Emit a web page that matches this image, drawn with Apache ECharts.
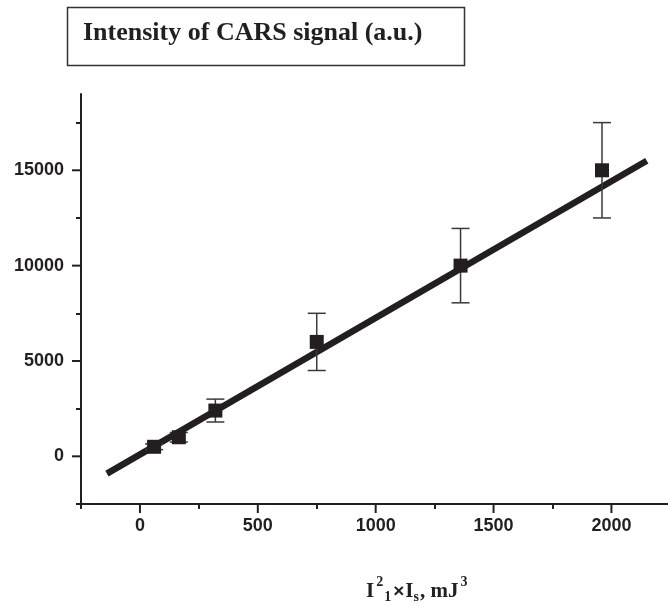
<!DOCTYPE html>
<html>
<head>
<meta charset="utf-8">
<script src="https://cdn.jsdelivr.net/npm/echarts@6/dist/echarts.min.js"></script>
<style>
  html, body { margin: 0; padding: 0; background: #fff; }
  #chart { width: 668px; height: 615px; }
</style>
</head>
<body>
<div id="chart"></div>
<script>
// Measured points: pump product I1^2 * Is (mJ^3) vs CARS intensity (a.u.)
const pumpEnergy  = [60, 165, 320, 750, 1360, 1960];
const carsSignal  = [500, 1000, 2400, 6000, 10000, 15000];
const signalError = [150, 250, 600, 1500, 1950, 2500];

// Linear fit, drawn between its two end points
const fitX = [-140, 2150];
const fitY = [-910, 15500];

// Axis ticks and labels
const xMajorTicks = [0, 500, 1000, 1500, 2000];
const xMinorTicks = [-250, 250, 750, 1250, 1750];
const yMajorTicks = [0, 5000, 10000, 15000];
const yMinorTicks = [-2500, 2500, 7500, 12500, 17500];

const INK = '#231f20';
const tickFont = { fontFamily: 'Liberation Sans', fontWeight: 'bold', fontSize: 18, color: INK };

const X_MIN = -250, X_MAX = 2240, Y_MIN = -2500, Y_MAX = 19000;
const MINOR_LEN = 5, MAJOR_LEN = 9;

const points = pumpEnergy.map((x, i) => [x, carsSignal[i]]);
const errorBars = pumpEnergy.map((x, i) => [x, carsSignal[i], carsSignal[i] - signalError[i], carsSignal[i] + signalError[i]]);
const fitLine = fitX.map((x, i) => [x, fitY[i]]);

const tickStyle = { color: INK, width: 2 };

// Axis: line, labels and short ticks
function mainAxis(min, max, pos, minors, labels, margin) {
  return {
    type: 'value', min: min, max: max, position: pos,
    splitLine: { show: false },
    axisLine: { show: true, onZero: false, lineStyle: { color: INK, width: 2 } },
    axisTick: { show: true, inside: false, length: MINOR_LEN, customValues: minors, lineStyle: tickStyle },
    axisLabel: Object.assign({ show: true, margin: margin, customValues: labels,
                               formatter: function (v) { return String(v); } }, tickFont)
  };
}

// Long ticks at the labelled values, placed on the axis edge through the axis scales
function majorTickSeries(name, data, dx, dy) {
  return {
    name: name, type: 'custom', data: data, xAxisIndex: 0, yAxisIndex: 0, z: 5, silent: true, clip: false,
    renderItem: function (params, api) {
      const p = api.coord([api.value(0), api.value(1)]);
      return {
        type: 'line',
        shape: { x1: p[0], y1: p[1], x2: p[0] + dx * MAJOR_LEN, y2: p[1] + dy * MAJOR_LEN },
        style: { stroke: INK, lineWidth: 2 }
      };
    }
  };
}

const chart = echarts.init(document.getElementById('chart'), null, { renderer: 'canvas' });

chart.setOption({
  animation: false,
  backgroundColor: '#fff',
  grid: { left: 81, right: 0, top: 94, bottom: 111, containLabel: false },
  xAxis: mainAxis(X_MIN, X_MAX, 'bottom', xMinorTicks, xMajorTicks, 13),
  yAxis: mainAxis(Y_MIN, Y_MAX, 'left', yMinorTicks, yMajorTicks, 17),
  series: [
    {
      name: 'fit', type: 'line', data: fitLine, xAxisIndex: 0, yAxisIndex: 0,
      symbol: 'none', lineStyle: { color: INK, width: 6.5 }, z: 2, silent: true
    },
    {
      name: 'error', type: 'custom', data: errorBars, xAxisIndex: 0, yAxisIndex: 0, z: 3,
      renderItem: function (params, api) {
        const x = api.value(0);
        const lo = api.coord([x, api.value(2)]);
        const hi = api.coord([x, api.value(3)]);
        const half = 9;
        const style = { stroke: '#3a3a3a', lineWidth: 1.5, fill: null };
        return {
          type: 'group',
          children: [
            { type: 'line', shape: { x1: lo[0], y1: lo[1], x2: hi[0], y2: hi[1] }, style: style },
            { type: 'line', shape: { x1: hi[0] - half, y1: hi[1], x2: hi[0] + half, y2: hi[1] }, style: style },
            { type: 'line', shape: { x1: lo[0] - half, y1: lo[1], x2: lo[0] + half, y2: lo[1] }, style: style }
          ]
        };
      }
    },
    {
      name: 'signal', type: 'scatter', data: points, xAxisIndex: 0, yAxisIndex: 0,
      symbol: 'rect', symbolSize: 14, itemStyle: { color: INK, opacity: 1 }, z: 4
    },
    majorTickSeries('x ticks', xMajorTicks.map(v => [v, Y_MIN]), 0, 1),
    majorTickSeries('y ticks', yMajorTicks.map(v => [X_MIN, v]), -1, 0)
  ],
  graphic: [
    {
      type: 'rect', left: 65, top: 5,
      shape: { width: 397, height: 58 },
      style: { fill: null, stroke: '#333', lineWidth: 1.5 }
    },
    {
      type: 'text', left: 83, top: 20,
      style: {
        text: 'Intensity of CARS signal (a.u.)',
        font: 'bold 26px "Liberation Serif"', fill: INK
      }
    },
    {
      type: 'text', left: 366, top: 574,
      style: {
        text: '{b|I}{sup|2}{sub|1}{x|×}{b|I}{sub|s}{b|, mJ}{sup|3}',
        fill: INK,
        rich: {
          b:   { fontFamily: 'Liberation Serif', fontWeight: 'bold', fontSize: 21, lineHeight: 30, verticalAlign: 'bottom', padding: [0, 0, 2, 0] },
          x:   { fontFamily: 'Liberation Sans', fontWeight: 'bold', fontSize: 19, lineHeight: 30, verticalAlign: 'bottom', padding: [0, 1, 3, 1] },
          sup: { fontFamily: 'Liberation Serif', fontWeight: 'bold', fontSize: 14, lineHeight: 30, verticalAlign: 'top', padding: [1, 1, 0, 2] },
          sub: { fontFamily: 'Liberation Serif', fontWeight: 'bold', fontSize: 14, lineHeight: 30, verticalAlign: 'bottom', padding: [0, 1, 0, 0] }
        }
      }
    }
  ]
});
</script>
</body>
</html>
